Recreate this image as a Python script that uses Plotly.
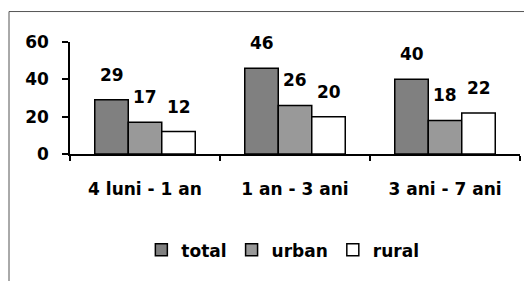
import plotly.graph_objects as go

categories = ["4 luni - 1 an", "1 an - 3 ani", "3 ani - 7 ani"]
total = [29, 46, 40]
urban = [17, 26, 18]
rural = [12, 20, 22]
series_names = ["total", "urban", "rural"]
y_ticks = [0, 20, 40, 60]

colors = ["#808080", "#999999", "#ffffff"]
FONT = dict(family="DejaVu Sans, sans-serif", size=17, color="black", weight="bold")

# figure is shown with the browser's 8px body margin, so lay out in shifted pixels
OFF = 8
W, H = 532 - OFF, 281 - OFF
ml, mr, mt, mb = 70 - OFF, 12, 42 - OFF, 125
pw, ph = W - ml - mr, H - mt - mb
bargap = 0.33
nser = 3
bar_px = pw / len(categories) * (1 - bargap) / nser

fig = go.Figure()
annotations = []
for i, (name, vals, col) in enumerate(zip(series_names, [total, urban, rural], colors)):
    fig.add_trace(go.Bar(
        name=name, x=categories, y=vals,
        marker=dict(color=col, line=dict(color="black", width=1.5)),
        cliponaxis=False,
    ))
    for cat, v in zip(categories, vals):
        annotations.append(dict(
            x=cat, y=v, xref="x", yref="y", text=str(v), showarrow=False,
            xanchor="center", yanchor="bottom",
            xshift=(i - (nser - 1) / 2) * bar_px, yshift=13, font=FONT,
        ))

fx = (9 - OFF - ml) / pw
fy = (H - mb - (11 - OFF)) / ph

fig.update_layout(
    width=W, height=H,
    margin=dict(l=ml, r=mr, t=mt, b=mb, pad=0),
    paper_bgcolor="white", plot_bgcolor="white",
    barmode="group", bargap=bargap, bargroupgap=0,
    font=FONT,
    showlegend=True,
    legend=dict(orientation="h", x=0.473, xanchor="center", y=-0.86, yanchor="middle",
                font=FONT, itemwidth=30, traceorder="normal"),
    annotations=annotations,
    shapes=[
        dict(type="line", xref="paper", yref="paper", x0=fx, x1=1.2, y0=fy, y1=fy,
             line=dict(color="#555555", width=1)),
        dict(type="line", xref="paper", yref="paper", x0=fx, x1=fx, y0=fy, y1=-1.5,
             line=dict(color="#555555", width=1)),
    ],
)
fig.update_yaxes(range=[0, 60], tickvals=y_ticks, ticks="outside", ticklen=6, tickwidth=1.5,
                 tickcolor="black", showline=True, linecolor="black", linewidth=1.5,
                 showgrid=False, zeroline=False, tickfont=FONT, ticklabelstandoff=10)
fig.update_xaxes(tickson="boundaries", ticks="outside", ticklen=5, tickwidth=1.5, tickcolor="black",
                 showline=True, linecolor="black", linewidth=1.5, showgrid=False,
                 tickfont=FONT, ticklabelstandoff=19)

fig.write_html("out.html")
